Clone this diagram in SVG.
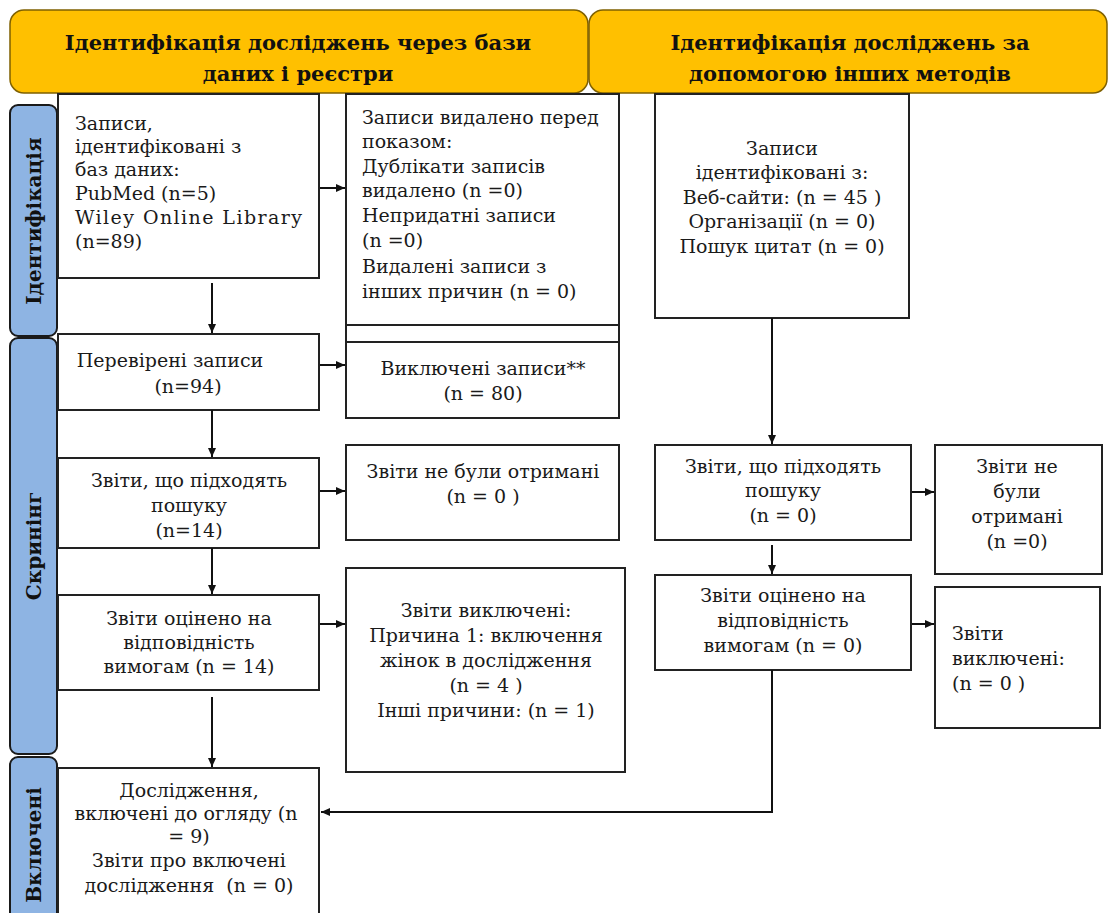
<svg xmlns="http://www.w3.org/2000/svg" width="1110" height="913" viewBox="0 0 1110 913">
<style>
.hdr{fill:#FFC000;stroke:#7F6000;stroke-width:1.5}
.side{fill:#8EB4E3;stroke:#1a1a1a;stroke-width:2}
.box{fill:#fff;stroke:#222;stroke-width:2}
.t{font-family:"DejaVu Serif","Liberation Serif",serif;font-size:19px;fill:#1a1a1a}
.c{text-anchor:middle}
.pre{white-space:pre}
.h{font-family:"DejaVu Serif","Liberation Serif",serif;font-size:21px;font-weight:bold;fill:#111;text-anchor:middle}
.s{font-family:"DejaVu Serif","Liberation Serif",serif;font-size:20px;font-weight:bold;fill:#111;text-anchor:middle}
.ln{fill:none;stroke:#111;stroke-width:2}
</style>
<defs>
<marker id="ah" markerWidth="10" markerHeight="10" refX="9" refY="5" orient="auto" markerUnits="userSpaceOnUse">
<path d="M0,1 L9,5 L0,9 Z" fill="#111"/>
</marker>
</defs>
<rect width="1110" height="913" fill="#fff"/>

<g id="header-left">
<rect class="hdr" x="10" y="10" width="578" height="83" rx="14"/>
<text class="h" x="298" y="50">Ідентифікація досліджень через бази</text>
<text class="h" x="298" y="81">даних і реєстри</text>
</g>
<g id="header-right">
<rect class="hdr" x="589" y="10" width="518" height="83" rx="14"/>
<text class="h" x="850" y="50">Ідентифікація досліджень за</text>
<text class="h" x="850" y="81">допомогою інших методів</text>
</g>

<g id="side-identification">
<rect class="side" x="10" y="105" width="47" height="231" rx="8"/>
<text class="s" transform="translate(41,221) rotate(-90)">Ідентифікація</text>
</g>
<g id="side-screening">
<rect class="side" x="10" y="338" width="47" height="416" rx="8"/>
<text class="s" transform="translate(41,546) rotate(-90)">Скринінг</text>
</g>
<g id="side-included">
<rect class="side" x="10" y="757" width="47" height="170" rx="8"/>
<text class="s" transform="translate(41,845) rotate(-90)">Включені</text>
</g>

<g id="box-db-records">
<rect class="box" x="58" y="94" width="261" height="184"/>
<text class="t" x="75" y="130">Записи,</text>
<text class="t" x="75" y="153">ідентифіковані з</text>
<text class="t" x="75" y="176">баз даних:</text>
<text class="t" x="75" y="200">PubMed (n=5)</text>
<text class="t" x="75" y="224" textLength="227" lengthAdjust="spacing">Wiley Online Library</text>
<text class="t" x="75" y="248">(n=89)</text>
</g>

<g id="box-removed">
<rect class="box" x="346" y="94" width="273" height="231"/>
<text class="t" x="362" y="124">Записи видалено перед</text>
<text class="t" x="362" y="148">показом:</text>
<text class="t" x="362" y="173">Дублікати записів</text>
<text class="t" x="362" y="197">видалено (n =0)</text>
<text class="t" x="362" y="222">Непридатні записи</text>
<text class="t" x="362" y="247">(n =0)</text>
<text class="t" x="362" y="273">Видалені записи з</text>
<text class="t" x="362" y="298">інших причин (n = 0)</text>
</g>
<g id="box-strip">
<rect class="box" x="346" y="325" width="273" height="17"/>
</g>

<g id="box-other-records">
<rect class="box" x="655" y="94" width="254" height="224"/>
<text class="t c" x="782" y="155">Записи</text>
<text class="t c" x="782" y="179">ідентифіковані з:</text>
<text class="t c" x="782" y="204">Веб-сайти: (n = 45 )</text>
<text class="t c" x="782" y="228">Організації (n = 0)</text>
<text class="t c" x="782" y="253">Пошук цитат (n = 0)</text>
</g>

<g id="box-screened">
<rect class="box" x="58" y="334" width="261" height="76"/>
<text class="t c" x="170" y="367">Перевірені записи</text>
<text class="t c" x="188" y="393">(n=94)</text>
</g>

<g id="box-excluded-records">
<rect class="box" x="346" y="342" width="273" height="76"/>
<text class="t c" x="483" y="375">Виключені записи**</text>
<text class="t c" x="483" y="400">(n = 80)</text>
</g>

<g id="box-sought">
<rect class="box" x="58" y="458" width="261" height="90"/>
<text class="t c" x="189" y="487">Звіти, що підходять</text>
<text class="t c" x="189" y="512">пошуку</text>
<text class="t c" x="189" y="537">(n=14)</text>
</g>

<g id="box-not-retrieved">
<rect class="box" x="346" y="445" width="273" height="95"/>
<text class="t c" x="483" y="478">Звіти не були отримані</text>
<text class="t c" x="483" y="503">(n = 0 )</text>
</g>

<g id="box-other-sought">
<rect class="box" x="655" y="445" width="256" height="95"/>
<text class="t c" x="783" y="473">Звіти, що підходять</text>
<text class="t c" x="783" y="497">пошуку</text>
<text class="t c" x="783" y="522">(n = 0)</text>
</g>

<g id="box-other-not-retrieved">
<rect class="box" x="935" y="445" width="167" height="129"/>
<text class="t c" x="1017" y="473">Звіти не</text>
<text class="t c" x="1017" y="498">були</text>
<text class="t c" x="1017" y="523">отримані</text>
<text class="t c" x="1017" y="548">(n =0)</text>
</g>

<g id="box-assessed">
<rect class="box" x="58" y="595" width="261" height="95"/>
<text class="t c" x="189" y="625">Звіти оцінено на</text>
<text class="t c" x="189" y="649">відповідність</text>
<text class="t c" x="189" y="673">вимогам (n = 14)</text>
</g>

<g id="box-reports-excluded">
<rect class="box" x="346" y="568" width="279" height="204"/>
<text class="t c" x="486" y="617">Звіти виключені:</text>
<text class="t c" x="486" y="642">Причина 1: включення</text>
<text class="t c" x="486" y="667">жінок в дослідження</text>
<text class="t c" x="486" y="692">(n = 4 )</text>
<text class="t c" x="486" y="717">Інші причини: (n = 1)</text>
</g>

<g id="box-other-assessed">
<rect class="box" x="655" y="575" width="256" height="95"/>
<text class="t c" x="783" y="602">Звіти оцінено на</text>
<text class="t c" x="783" y="627">відповідність</text>
<text class="t c" x="783" y="652">вимогам (n = 0)</text>
</g>

<g id="box-other-excluded">
<rect class="box" x="935" y="587" width="165" height="141"/>
<text class="t" x="952" y="640">Звіти</text>
<text class="t" x="952" y="665">виключені:</text>
<text class="t" x="952" y="690">(n = 0 )</text>
</g>

<g id="box-included">
<rect class="box" x="58" y="768" width="261" height="160"/>
<text class="t c" x="189" y="797">Дослідження,</text>
<text class="t c" x="186" y="820">включені до огляду (n</text>
<text class="t c" x="189" y="843">= 9)</text>
<text class="t c" x="189" y="867">Звіти про включені</text>
<text class="t c pre" x="189" y="892">дослідження  (n = 0)</text>
</g>

<g id="connectors">
<line class="ln" x1="212" y1="283" x2="212" y2="333" marker-end="url(#ah)"/>
<line class="ln" x1="212" y1="410" x2="212" y2="457" marker-end="url(#ah)"/>
<line class="ln" x1="212" y1="548" x2="212" y2="594" marker-end="url(#ah)"/>
<line class="ln" x1="212" y1="697" x2="212" y2="767" marker-end="url(#ah)"/>
<line class="ln" x1="320" y1="188" x2="345" y2="188" marker-end="url(#ah)"/>
<line class="ln" x1="320" y1="365" x2="345" y2="365" marker-end="url(#ah)"/>
<line class="ln" x1="320" y1="491" x2="345" y2="491" marker-end="url(#ah)"/>
<line class="ln" x1="320" y1="624" x2="345" y2="624" marker-end="url(#ah)"/>
<line class="ln" x1="772" y1="318" x2="772" y2="444" marker-end="url(#ah)"/>
<line class="ln" x1="772" y1="545" x2="772" y2="574" marker-end="url(#ah)"/>
<line class="ln" x1="912" y1="492" x2="934" y2="492" marker-end="url(#ah)"/>
<line class="ln" x1="912" y1="624" x2="934" y2="624" marker-end="url(#ah)"/>
<polyline class="ln" points="772,670 772,812 321,812" marker-end="url(#ah)"/>
</g>
</svg>
